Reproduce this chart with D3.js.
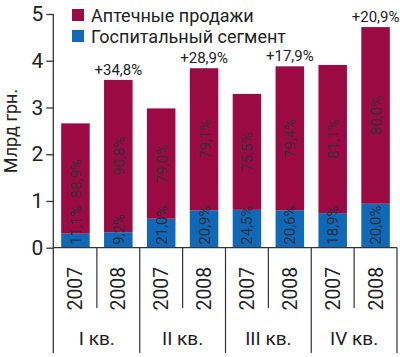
<!DOCTYPE html>
<html><head><meta charset="utf-8">
<script src="https://cdn.jsdelivr.net/npm/d3@7"></script>
<style>
html,body{margin:0;padding:0;background:#fff;}
svg{display:block;font-family:Roboto,"Noto Sans",sans-serif;}
</style></head>
<body><svg id="c" width="400" height="357"></svg>
<script>
const years = ["2007","2008","2007","2008","2007","2008","2007","2008"];
const quarters = ["I кв.","II кв.","III кв.","IV кв."];
const hospital = [0.30, 0.33, 0.62, 0.80, 0.81, 0.80, 0.74, 0.94];
const pharmacy = [2.36, 3.26, 2.36, 3.04, 2.48, 3.08, 3.17, 3.78];
const pharmacyPct = ["88,9%","90,8%","79,0%","79,1%","75,5%","79,4%","81,1%","80,0%"];
const hospitalPct = ["11,1%","9,2%","21,0%","20,9%","24,5%","20,6%","18,9%","20,0%"];
const growth = [null,"+34,8%",null,"+28,9%",null,"+17,9%",null,"+20,9%"];
const seriesNames = ["Аптечные продажи","Госпитальный сегмент"];
const yTicks = [0,1,2,3,4,5];

const colors = ["#9c0a44","#1068b8"];
const svg = d3.select("#c");
const ids = d3.range(years.length);
const x = d3.scaleBand().domain(ids).range([54, 397]).paddingInner(0.335).paddingOuter(0.1675);
const y = d3.scaleLinear().domain([0,5]).range([247.7, 14]);
const axisColor = "#333";

// bars
const g = svg.append("g");
ids.forEach(i => {
  const x0 = x(i), w = x.bandwidth();
  const tot = hospital[i] + pharmacy[i];
  g.append("rect").attr("x", x0).attr("width", w)
    .attr("y", y(hospital[i])).attr("height", y(0) - y(hospital[i])).attr("fill", colors[1]);
  g.append("rect").attr("x", x0).attr("width", w)
    .attr("y", y(tot)).attr("height", y(hospital[i]) - y(tot)).attr("fill", colors[0]);
  const cx = x0 + w/2;
  // pharmacy pct label, centered in crimson segment
  const my = (y(tot) + y(hospital[i]))/2;
  g.append("text").attr("transform", `translate(${cx+5.5},${my}) rotate(-90)`)
    .attr("text-anchor","middle").attr("font-size",15).attr("fill","#3a3035").text(pharmacyPct[i]);
  // hospital pct label from bottom
  g.append("text").attr("transform", `translate(${cx+5.5},${y(0)-3}) rotate(-90)`)
    .attr("text-anchor","start").attr("font-size",15).attr("fill","#2a3038").text(hospitalPct[i]);
  if (growth[i]) {
    g.append("text").attr("x", cx).attr("y", y(tot) - 5).attr("text-anchor","middle")
      .attr("font-size",15).attr("fill","#222").text(growth[i]);
  }
});

// y axis
const ya = svg.append("g").attr("transform","translate(53.3,0)")
  .call(d3.axisLeft(y).tickValues(yTicks).tickSize(7).tickPadding(3).tickFormat(d3.format("d")));
ya.select(".domain").remove();
ya.selectAll(".tick line").attr("stroke", axisColor).attr("stroke-width",1.3);
ya.selectAll(".tick text").attr("font-size",21).attr("fill","#222").attr("font-family","Roboto");
svg.append("line").attr("x1",53.3).attr("x2",53.3).attr("y1",y(5)).attr("y2",353)
  .attr("stroke",axisColor).attr("stroke-width",1.3);

// x axis
const xa = svg.append("g").attr("transform",`translate(0,${y(0)})`)
  .call(d3.axisBottom(x).tickSize(0).tickFormat(i => years[i]));
xa.select(".domain").attr("d", `M53.3,0H397`).attr("stroke",axisColor).attr("stroke-width",1.3);
xa.selectAll(".tick text").attr("font-size",19.5).attr("fill","#222").attr("font-family","Roboto")
  .attr("text-anchor","end").attr("dy",null).attr("y",null)
  .attr("transform","translate(7,19) rotate(-90)");

// separators
ids.forEach(i => {
  const bx = x(i) + x.bandwidth() + x.step()*x.paddingInner()/2;
  const long = (i % 2 === 1);
  svg.append("line").attr("x1",bx).attr("x2",bx).attr("y1",y(0)).attr("y2", long ? 353 : 308)
    .attr("stroke",axisColor).attr("stroke-width",1.2);
});

// quarter labels
quarters.forEach((q, k) => {
  const cx = (x(2*k) + x(2*k+1) + x.bandwidth())/2;
  svg.append("text").attr("x", cx).attr("y", 345).attr("text-anchor","middle")
    .attr("font-size",19).attr("fill","#222").text(q);
});

// y title
svg.append("text").attr("transform","translate(17,131) rotate(-90)").attr("text-anchor","middle")
  .attr("font-size",18).attr("fill","#222").text("Млрд грн.");

// legend
seriesNames.forEach((n, k) => {
  svg.append("rect").attr("x",72).attr("y",9 + k*21).attr("width",12).attr("height",12).attr("fill",colors[k]);
  svg.append("text").attr("x",91).attr("y",22 + k*21).attr("font-size",18).attr("fill","#222").text(n);
});
</script></body></html>
